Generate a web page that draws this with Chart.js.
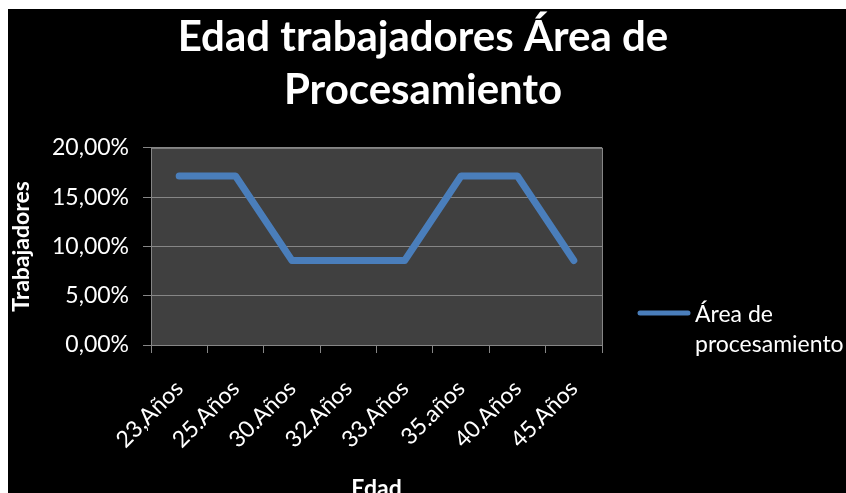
<!DOCTYPE html>
<html>
<head>
<meta charset="utf-8">
<script src="https://cdn.jsdelivr.net/npm/chart.js@4/dist/chart.umd.min.js"></script>
<style>
  html, body { margin: 0; padding: 0; background: #fff; overflow: hidden; }
  #wrap { position: absolute; left: 8px; top: 9px; width: 838px; height: 500px; background: #000; }
</style>
</head>
<body>
<div id="wrap"><canvas id="grafico" width="838" height="500"></canvas></div>
<script>
// === Datos ===
const edades = ["23,Años", "25.Años", "30.Años", "32.Años", "33.Años", "35.años", "40.Años", "45.Años"];
const porcentajes = [17.14, 17.14, 8.57, 8.57, 8.57, 17.14, 17.14, 8.57];
const serieNombre = ["Área de", "procesamiento"];
const tituloLineas = ["Edad trabajadores Área de", "Procesamiento"];

const FUENTE = "Lato, 'Open Sans', sans-serif";
const AZUL = "#4a7ebb";

// fondo gris del área de trazado
const fondoPlot = {
  id: "fondoPlot",
  beforeDraw(chart) {
    const { ctx, chartArea: a } = chart;
    ctx.save();
    ctx.fillStyle = "#404040";
    ctx.fillRect(a.left, a.top, a.right - a.left, a.bottom - a.top);
    ctx.strokeStyle = "#868686";
    ctx.lineWidth = 1;
    ctx.strokeRect(a.left + 0.5, a.top + 0.5, a.right - a.left, a.bottom - a.top);
    ctx.restore();
  },
};

// leyenda a la derecha con el texto en dos líneas
const leyenda = {
  id: "leyenda",
  afterDraw(chart) {
    const { ctx } = chart;
    const ds = chart.data.datasets[0];
    ctx.save();
    ctx.strokeStyle = ds.borderColor;
    ctx.lineWidth = 5;
    ctx.lineCap = "round";
    ctx.beginPath();
    ctx.moveTo(632, 304);
    ctx.lineTo(680, 304);
    ctx.stroke();
    ctx.fillStyle = "#fff";
    ctx.font = "23px " + FUENTE;
    ctx.textBaseline = "alphabetic";
    ds.label.forEach((t, i) => ctx.fillText(t, 687, 313 + i * 30));
    ctx.restore();
  },
};

new Chart(document.getElementById("grafico").getContext("2d"), {
  type: "line",
  data: {
    labels: edades,
    datasets: [
      {
        label: serieNombre,
        data: porcentajes,
        borderColor: AZUL,
        borderWidth: 7,
        borderCapStyle: "round",
        borderJoinStyle: "round",
        tension: 0,
        fill: false,
        pointRadius: 0,
      },
    ],
  },
  options: {
    responsive: false,
    animation: false,
    layout: { padding: { left: 0, right: 8, top: 0, bottom: 0 } },
    plugins: {
      legend: { display: false },
      tooltip: { enabled: false },
      title: {
        display: true,
        text: tituloLineas,
        color: "#fff",
        font: { family: FUENTE, size: 42, weight: "bold", lineHeight: 1.26 },
        padding: { top: 2, bottom: 31 },
      },
    },
    scales: {
      x: {
        offset: true,
        afterFit(scale) { scale.height = 164; },
        grid: {
          offset: true,
          drawOnChartArea: false,
          drawTicks: true,
          tickLength: 8,
          color: "#868686",
        },
        border: { color: "#868686" },
        ticks: {
          color: "#fff",
          font: { family: FUENTE, size: 23 },
          maxRotation: 45,
          minRotation: 45,
          padding: 22,
        },
        title: {
          display: true,
          text: "Edad",
          color: "#fff",
          font: { family: FUENTE, size: 23, weight: "bold", lineHeight: 1.2 },
          padding: { top: 0, bottom: 7 },
        },
      },
      y: {
        min: 0,
        max: 20,
        afterFit(scale) { scale.width = 143; },
        grid: { color: "#868686", tickLength: 8 },
        border: { color: "#868686" },
        ticks: {
          stepSize: 5,
          color: "#fff",
          font: { family: FUENTE, size: 23 },
          padding: 14,
          callback: (v) => v.toFixed(2).replace(".", ",") + "%",
        },
        title: {
          display: true,
          text: "Trabajadores",
          color: "#fff",
          font: { family: FUENTE, size: 23, weight: "bold", lineHeight: 1.2 },
          padding: { top: 0, bottom: 0 },
        },
      },
      // espacio reservado a la derecha para la leyenda
      hueco: {
        type: "linear",
        position: "right",
        afterFit(scale) { scale.width = 236; },
        grid: { display: false },
        border: { display: false },
        ticks: { display: false },
      },
    },
  },
  plugins: [fondoPlot, leyenda],
});
</script>
</body>
</html>
